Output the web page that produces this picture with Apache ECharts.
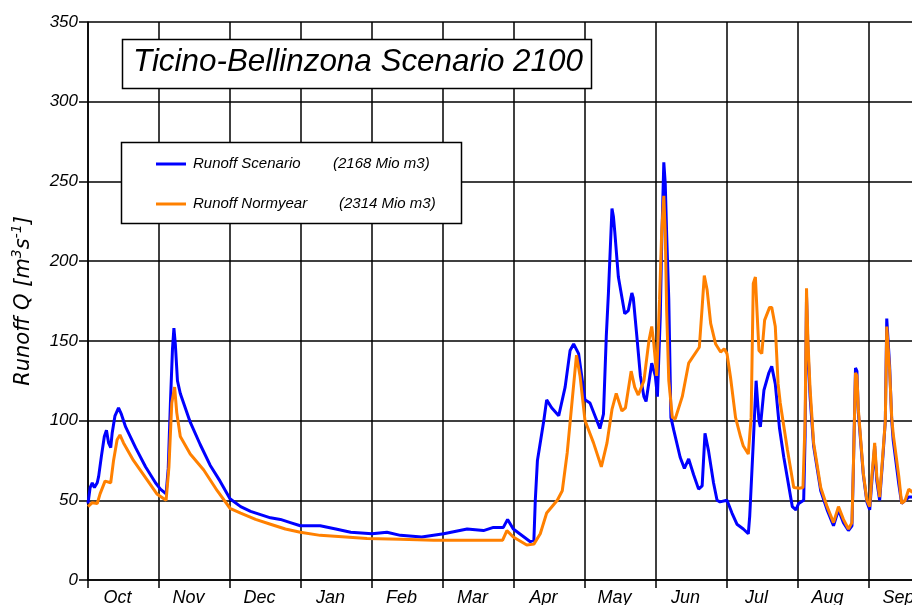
<!DOCTYPE html>
<html>
<head>
<meta charset="utf-8">
<script src="https://cdn.jsdelivr.net/npm/echarts@6/dist/echarts.min.js"></script>
<style>
html,body{margin:0;padding:0;background:#fff;}
#chart{width:912px;height:605px;}
</style>
</head>
<body>
<div id="chart"></div>
<script>
// Hydrological year months (Oct..Sep)
var months = ['Oct','Nov','Dec','Jan','Feb','Mar','Apr','May','Jun','Jul','Aug','Sep'];
var yTicks = [0, 50, 100, 150, 200, 250, 300, 350];
var seriesNames = ['Runoff Scenario', 'Runoff Normyear'];
var volumes = ['(2168 Mio m3)', '(2314 Mio m3)'];
var chartTitle = 'Ticino-Bellinzona Scenario 2100';

// [time in months since 1 Oct, runoff m3/s]
var scenario = [
  [0.00,48],[0.03,58],[0.06,61],[0.09,58],[0.13,61],[0.15,65],[0.19,78],[0.23,90],[0.26,94],
  [0.29,86],[0.32,83],[0.34,92],[0.38,103],[0.43,108],[0.47,104],[0.53,96],[0.67,83],[0.81,71],
  [0.95,61],[1.02,57],[1.10,54],[1.13,70],[1.16,110],[1.19,145],[1.21,158],[1.23,148],[1.26,125],
  [1.30,117],[1.44,99],[1.58,85],[1.72,72],[1.86,62],[2.00,51],[2.15,46],[2.29,43],[2.43,41],
  [2.57,39],[2.71,38],[2.85,36],[2.99,34],[3.13,34],[3.27,34],[3.49,32],[3.70,30],[4.00,29],
  [4.21,30],[4.40,28],[4.70,27],[5.01,29],[5.34,32],[5.57,31],[5.71,33],[5.85,33],[5.91,38],
  [5.99,32],[6.23,24],[6.28,25],[6.30,50],[6.33,75],[6.42,100],[6.46,113],[6.53,108],[6.63,103],
  [6.72,121],[6.79,144],[6.84,148],[6.91,142],[7.00,113],[7.07,111],[7.21,95],[7.26,104],
  [7.30,153],[7.33,180],[7.38,233],[7.40,228],[7.42,218],[7.47,190],[7.56,167],[7.61,169],
  [7.66,180],[7.68,177],[7.73,153],[7.78,128],[7.83,115],[7.86,112],[7.94,136],[7.99,128],
  [8.02,115],[8.06,165],[8.08,211],[8.11,262],[8.13,249],[8.15,217],[8.18,176],[8.21,102],
  [8.25,94],[8.34,77],[8.40,70],[8.46,76],[8.53,66],[8.60,57],[8.65,59],[8.69,92],[8.74,81],
  [8.81,61],[8.86,50],[8.90,49],[9.00,50],[9.07,42],[9.14,35],[9.23,32],[9.30,29],[9.32,40],
  [9.37,86],[9.41,125],[9.45,100],[9.47,96],[9.52,119],[9.59,130],[9.63,134],[9.68,123],
  [9.74,95],[9.80,77],[9.92,46],[9.97,44],[10.01,48],[10.08,50],[10.10,90],[10.12,178],
  [10.14,145],[10.17,115],[10.22,84],[10.32,56],[10.41,44],[10.50,34],[10.57,44],[10.64,36],
  [10.71,31],[10.76,34],[10.78,70],[10.81,133],[10.83,131],[10.85,105],[10.92,66],[10.97,49],
  [11.01,44],[11.04,62],[11.08,84],[11.11,62],[11.15,50],[11.20,80],[11.23,100],[11.25,164],
  [11.29,135],[11.32,100],[11.34,88],[11.42,60],[11.46,48],[11.51,50],[11.56,52],[11.61,52],
  [11.70,53]
];

var normyear = [
  [0.00,46],[0.06,48.5],[0.13,48],[0.17,54],[0.24,62],[0.32,61],[0.36,75],[0.41,88],[0.45,91],
  [0.50,86],[0.64,75],[0.83,63],[0.97,54],[1.10,50],[1.14,71],[1.18,111],[1.22,121],[1.25,105],
  [1.30,90],[1.44,79],[1.63,69],[1.82,56],[2.00,45],[2.15,42],[2.36,38],[2.57,35],[2.78,32],
  [2.99,30],[3.27,28],[3.63,27],[3.93,26],[4.40,25.5],[4.87,25],[5.38,25],[5.84,25],[5.90,31],
  [5.99,27],[6.18,22],[6.28,22.5],[6.37,29],[6.46,42],[6.61,50],[6.68,56],[6.75,80],[6.82,113],
  [6.88,141],[6.93,128],[7.00,100],[7.12,86],[7.23,71],[7.31,86],[7.38,107],[7.44,117],
  [7.52,106],[7.57,108],[7.65,131],[7.70,121],[7.75,116],[7.83,125],[7.90,150],[7.94,159],
  [7.97,148],[8.01,128],[8.05,176],[8.08,218],[8.11,241],[8.13,218],[8.15,169],[8.18,125],
  [8.23,102],[8.27,101],[8.37,115],[8.46,136],[8.61,146],[8.65,171],[8.68,191],[8.72,182],
  [8.77,161],[8.84,148],[8.91,143],[8.96,145],[9.00,142],[9.05,127],[9.12,102],[9.19,90],
  [9.23,84],[9.30,79],[9.34,102],[9.37,186],[9.40,190],[9.42,171],[9.45,144],[9.49,142],
  [9.53,163],[9.60,171],[9.63,171],[9.68,159],[9.72,123],[9.75,111],[9.85,82],[9.94,58],
  [10.02,57.5],[10.07,58],[10.10,100],[10.12,183],[10.14,150],[10.17,120],[10.22,86],[10.32,58],
  [10.41,46],[10.50,36],[10.57,46],[10.64,38],[10.71,32],[10.76,36],[10.78,71],[10.81,130],
  [10.83,128],[10.85,107],[10.92,67],[10.97,50],[11.01,46],[11.04,65],[11.08,86],[11.11,65],
  [11.15,52],[11.20,82],[11.23,100],[11.25,159],[11.29,132],[11.32,102],[11.34,92],[11.42,65],
  [11.46,48],[11.51,50],[11.56,57],[11.61,55],[11.65,60],[11.70,60]
];

var chart = echarts.init(document.getElementById('chart'), null, {renderer: 'canvas'});
var FONT = 'Liberation Sans, Arial, sans-serif';

var option = {
  backgroundColor: '#ffffff',
  animation: false,
  grid: {left: 88, top: 22, right: -28, bottom: 25, containLabel: false, outerBoundsMode: 'none'},
  legend: {
    orient: 'vertical',
    left: 151,
    top: 151,
    itemWidth: 30,
    itemHeight: 3,
    itemGap: 24,
    icon: 'rect',
    z: 100,
    data: seriesNames,
    formatter: function (name) {
      var i = seriesNames.indexOf(name);
      return '{g|}{a' + i + '|' + name + '}{b|' + volumes[i] + '}';
    },
    textStyle: {
      fontFamily: FONT, fontStyle: 'italic', fontSize: 15, color: '#000', lineHeight: 16,
      rich: {
        g: {width: 2},
        a0: {width: 140, fontFamily: FONT, fontStyle: 'italic', fontSize: 15, color: '#000'},
        a1: {width: 146, fontFamily: FONT, fontStyle: 'italic', fontSize: 15, color: '#000'},
        b: {fontFamily: FONT, fontStyle: 'italic', fontSize: 15, color: '#000'}
      }
    }
  },
  graphic: [
    {type: 'rect', z: 90, shape: {x: 122.5, y: 39.5, width: 469, height: 49},
     style: {fill: '#fff', stroke: '#000', lineWidth: 1.5}},
    {type: 'text', z: 95, left: 133, top: 47,
     style: {text: chartTitle, font: 'italic 31.4px ' + FONT, fill: '#000'}},
    {type: 'rect', z: 90, shape: {x: 121.5, y: 142.5, width: 340, height: 81},
     style: {fill: '#fff', stroke: '#000', lineWidth: 1.5}}
  ],
  xAxis: [
    {
      type: 'category',
      data: months,
      boundaryGap: true,
      position: 'bottom',
      axisLine: {show: true, lineStyle: {color: '#000', width: 1.5}},
      axisTick: {show: true, interval: 0, length: 8, lineStyle: {color: '#000', width: 1.5}},
      splitLine: {show: true, interval: 0, lineStyle: {color: '#000', width: 1.5}},
      axisLabel: {interval: 0, margin: 9, fontFamily: FONT, fontStyle: 'italic', fontSize: 18,
                  color: '#000', padding: [0, 12, 0, 0]}
    },
    {
      type: 'value',
      min: 0, max: 12,
      show: false,
      splitLine: {show: false}
    }
  ],
  yAxis: {
    type: 'value',
    min: yTicks[0], max: yTicks[yTicks.length - 1], interval: 50,
    name: '{n|Runoff Q [m}{s|3}{n|s}{s|-1}{n|]}',
    nameLocation: 'middle',
    nameGap: 54,
    nameRotate: 90,
    nameTextStyle: {
      rich: {
        n: {fontFamily: 'DejaVu Sans, sans-serif', fontStyle: 'italic', fontSize: 21, color: '#000', verticalAlign: 'bottom', lineHeight: 24},
        s: {fontFamily: 'DejaVu Sans, sans-serif', fontStyle: 'italic', fontSize: 14, color: '#000', verticalAlign: 'top', lineHeight: 24}
      }
    },
    axisLine: {show: true, lineStyle: {color: '#000', width: 1.5}},
    axisTick: {show: true, length: 9, lineStyle: {color: '#000', width: 1.5}},
    splitLine: {show: true, lineStyle: {color: '#000', width: 1.5}},
    axisLabel: {margin: 10, fontFamily: FONT, fontStyle: 'italic', fontSize: 17, color: '#000'}
  },
  series: [
    {
      name: seriesNames[0], type: 'line', xAxisIndex: 1, data: scenario,
      showSymbol: false, symbol: 'none', z: 3,
      color: '#0000ff',
      lineStyle: {color: '#0000ff', width: 3}
    },
    {
      name: seriesNames[1], type: 'line', xAxisIndex: 1, data: normyear,
      showSymbol: false, symbol: 'none', z: 4,
      color: '#ff8000',
      lineStyle: {color: '#ff8000', width: 3}
    }
  ]
};
chart.setOption(option);
</script>
</body>
</html>
